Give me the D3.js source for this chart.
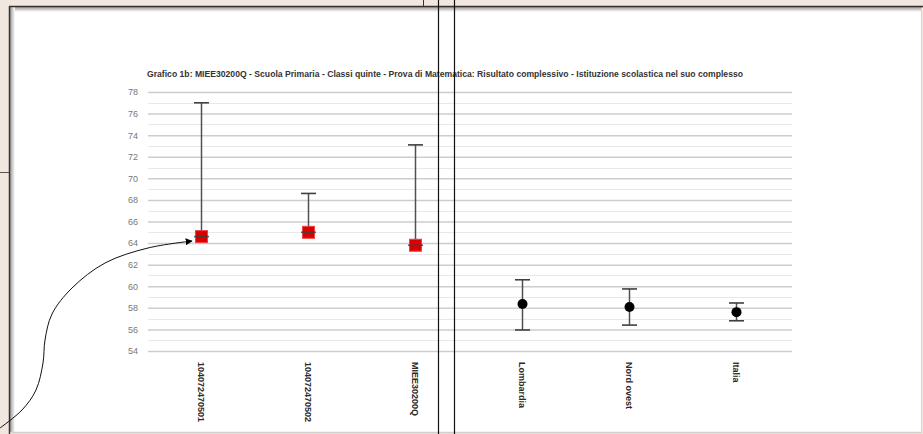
<!DOCTYPE html>
<html>
<head>
<meta charset="utf-8">
<script src="https://cdn.jsdelivr.net/npm/d3@7"></script>
<style>
  html, body { margin: 0; padding: 0; background: #f1e7df; }
  svg { display: block; }
  text { font-family: "Liberation Sans", Arial, sans-serif; }
</style>
</head>
<body>
<svg id="chart" width="923" height="434"></svg>
<script>
// ---------- data ----------
const categories = ["104072470501", "104072470502", "MIEE30200Q", "Lombardia", "Nord ovest", "Italia"];
const means      = [64.6, 65.0, 63.8, 58.35, 58.07, 57.6];
const upper      = [77.0, 68.6, 73.1, 60.6, 59.75, 58.45];
const lower      = [64.6, 65.0, 63.8, 55.95, 56.4, 56.8];
const markerType = ["square", "square", "square", "circle", "circle", "circle"];
const yTicks     = [54, 56, 58, 60, 62, 64, 66, 68, 70, 72, 74, 76, 78];
const titleText  = "Grafico 1b: MIEE30200Q - Scuola Primaria - Classi quinte - Prova di Matematica: Risultato complessivo - Istituzione scolastica nel suo complesso";
// annotation arrow (slide drawing) waypoints
const arrowPts = [[0,428],[22,410],[36,390],[43,363],[45,340],[52,314],[72,288],[105,263],[148,248],[192,241]];

const svg = d3.select("#chart");
const W = 923, H = 434;

// ---------- slide panel ----------
const defs = svg.append("defs");
const gTop = defs.append("linearGradient").attr("id","shTop").attr("x1",0).attr("y1",0).attr("x2",0).attr("y2",1);
gTop.append("stop").attr("offset","0%").attr("stop-color","#9a9a9a");
gTop.append("stop").attr("offset","100%").attr("stop-color","#ffffff");
const gLeft = defs.append("linearGradient").attr("id","shLeft").attr("x1",0).attr("y1",0).attr("x2",1).attr("y2",0);
gLeft.append("stop").attr("offset","0%").attr("stop-color","#9a9a9a");
gLeft.append("stop").attr("offset","100%").attr("stop-color","#ffffff");

svg.append("rect").attr("x",10).attr("y",7).attr("width",912).attr("height",425).attr("fill","#fff");
svg.append("rect").attr("x",10).attr("y",7).attr("width",912).attr("height",5).attr("fill","url(#shTop)");
svg.append("rect").attr("x",10).attr("y",7).attr("width",5).attr("height",425).attr("fill","url(#shLeft)");
svg.append("line").attr("x1",9).attr("x2",923).attr("y1",6.5).attr("y2",6.5).attr("stroke","#3a3030").attr("stroke-width",1.5);
svg.append("line").attr("x1",9.5).attr("x2",9.5).attr("y1",6).attr("y2",434).attr("stroke","#3a3030").attr("stroke-width",1.5);
svg.append("line").attr("x1",921.5).attr("x2",921.5).attr("y1",8).attr("y2",432).attr("stroke","#d6d6d6").attr("stroke-width",1);
svg.append("line").attr("x1",10).attr("x2",922).attr("y1",432.5).attr("y2",432.5).attr("stroke","#cfcfcf").attr("stroke-width",1.5);
svg.append("line").attr("x1",0).attr("x2",9).attr("y1",172.5).attr("y2",172.5).attr("stroke","#555").attr("stroke-width",1);
svg.append("line").attr("x1",423.5).attr("x2",423.5).attr("y1",0).attr("y2",6).attr("stroke","#333").attr("stroke-width",1);

// ---------- chart ----------
const m = { left: 148, right: 790, top: 92, bottom: 351 };
const x = d3.scaleBand().domain(categories).range([m.left, m.right]);
const y = d3.scaleLinear().domain([54, 78]).range([m.bottom, m.top]);

// title
svg.append("text")
  .attr("x", 147).attr("y", 77)
  .attr("font-size", 8.6).attr("font-weight", "bold").attr("fill", "#333")
  .attr("textLength", 596).attr("lengthAdjust", "spacingAndGlyphs")
  .text(titleText);

// gridlines (major on ticks, minor in between)
const minorVals = d3.range(55, 78, 2);
svg.append("g").selectAll("line.minor").data(minorVals).join("line")
  .attr("x1", m.left).attr("x2", m.right + 2)
  .attr("y1", d => Math.round(y(d)) + 0.5).attr("y2", d => Math.round(y(d)) + 0.5)
  .attr("stroke", "#e8e8e8").attr("stroke-width", 1);

const yAxis = d3.axisLeft(y).tickValues(yTicks).tickSize(-(m.right + 2 - m.left)).tickPadding(10);
const ga = svg.append("g").attr("transform", `translate(${m.left},0)`).call(yAxis);
ga.select(".domain").remove();
ga.selectAll(".tick line").attr("stroke", "#cdcdcd").attr("stroke-width", 1.5);
ga.selectAll(".tick text").attr("font-size", 9).attr("fill", "#777").attr("font-family", "Liberation Sans, Arial, sans-serif");

// category labels (rotated)
svg.append("g").selectAll("text").data(categories).join("text")
  .attr("transform", d => `translate(${x(d) + x.bandwidth() / 2},362) rotate(90)`)
  .attr("dy", "0.35em")
  .attr("text-anchor", "start")
  .attr("font-size", 9).attr("font-weight", "bold").attr("fill", "#2a2a2a")
  .text(d => d);

// error bars
const data = categories.map((c, i) => ({ c, mean: means[i], hi: upper[i], lo: lower[i], type: markerType[i] }));
const capW = 15;
const eb = svg.append("g");
eb.selectAll("line.v").data(data).join("line")
  .attr("x1", d => x(d.c) + x.bandwidth() / 2).attr("x2", d => x(d.c) + x.bandwidth() / 2)
  .attr("y1", d => y(d.hi)).attr("y2", d => y(d.lo))
  .attr("stroke", "#505050").attr("stroke-width", 1.5);
eb.selectAll("line.hi").data(data).join("line")
  .attr("x1", d => x(d.c) + x.bandwidth() / 2 - capW / 2).attr("x2", d => x(d.c) + x.bandwidth() / 2 + capW / 2)
  .attr("y1", d => y(d.hi)).attr("y2", d => y(d.hi))
  .attr("stroke", "#404040").attr("stroke-width", 1.6);

// markers
const mk = svg.append("g");
mk.selectAll("rect").data(data.filter(d => d.type === "square")).join("rect")
  .attr("x", d => x(d.c) + x.bandwidth() / 2 - 6).attr("y", d => y(d.mean) - 6)
  .attr("width", 12).attr("height", 12)
  .attr("fill", "#d90000").attr("stroke", "#ee4444").attr("stroke-width", 1);
mk.selectAll("circle").data(data.filter(d => d.type === "circle")).join("circle")
  .attr("cx", d => x(d.c) + x.bandwidth() / 2).attr("cy", d => y(d.mean))
  .attr("r", 5).attr("fill", "#000");

// lower caps on top
svg.append("g").selectAll("line").data(data).join("line")
  .attr("x1", d => x(d.c) + x.bandwidth() / 2 - capW / 2).attr("x2", d => x(d.c) + x.bandwidth() / 2 + capW / 2)
  .attr("y1", d => y(d.lo)).attr("y2", d => y(d.lo))
  .attr("stroke", "#404040").attr("stroke-width", 1.6)
  .attr("opacity", d => d.type === "square" ? 0.8 : 1);

// slide vertical lines
svg.append("line").attr("x1",438.5).attr("x2",438.5).attr("y1",0).attr("y2",H).attr("stroke","#111").attr("stroke-width",1.2);
svg.append("line").attr("x1",454.5).attr("x2",454.5).attr("y1",0).attr("y2",H).attr("stroke","#111").attr("stroke-width",1.2);

// annotation arrow
defs.append("marker").attr("id","ah").attr("viewBox","0 0 10 10").attr("refX",9).attr("refY",5)
  .attr("markerWidth",7).attr("markerHeight",7).attr("orient","auto")
  .append("path").attr("d","M0,0 L10,5 L0,10 z").attr("fill","#000");
svg.append("path")
  .attr("d", d3.line().curve(d3.curveCatmullRom)(arrowPts))
  .attr("fill","none").attr("stroke","#111").attr("stroke-width",1)
  .attr("marker-end","url(#ah)");
</script>
</body>
</html>
